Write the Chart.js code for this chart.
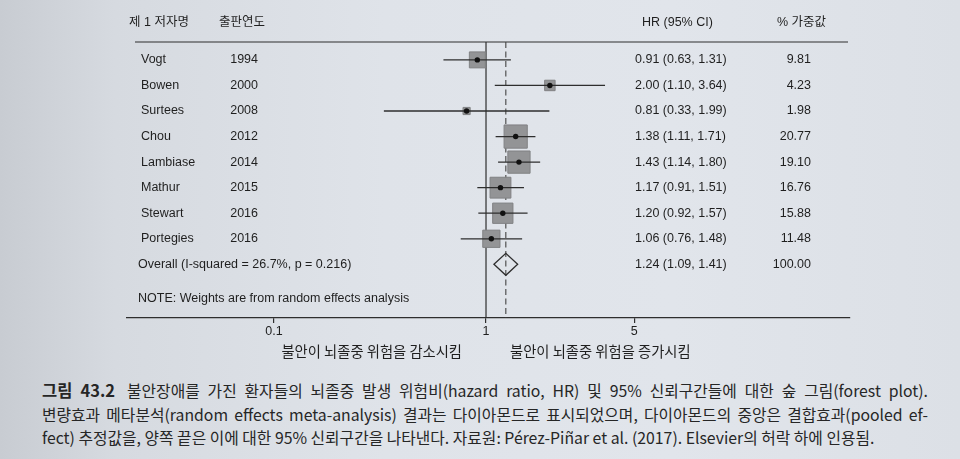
<!DOCTYPE html>
<html>
<head>
<meta charset="utf-8">
<script src="https://cdn.jsdelivr.net/npm/chart.js@4"></script>
<style>
  html, body { margin:0; padding:0; }
  body {
    width:960px; height:459px; overflow:hidden; position:relative;
    background: linear-gradient(90deg, #c8ccd2 0%, #d6dae0 12%, #dfe3e9 40%, #e1e5eb 70%, #dce0e6 100%);
  }
  #wrap { position:absolute; left:0; top:0; width:960px; height:370px; }
  #cap {
    position:absolute; left:42px; top:379px; width:886px;
    font-family:"Noto Sans CJK KR", sans-serif; font-size:15.8px; line-height:23.5px;
    color:#262626;
  }
  #cap div { white-space:normal; }
  #cap .j { text-align:justify; text-align-last:justify; }
  #cap b { font-weight:700; font-size:16.5px; margin-right:12px; }
</style>
</head>
<body>
<div id="wrap"><canvas id="c" width="960" height="370"></canvas></div>
<div id="cap">
  <div class="j"><b>그림 43.2</b>불안장애를 가진 환자들의 뇌졸중 발생 위험비(hazard ratio, HR) 및 95% 신뢰구간들에 대한 숲 그림(forest plot).</div>
  <div class="j">변량효과 메타분석(random effects meta-analysis) 결과는 다이아몬드로 표시되었으며, 다이아몬드의 중앙은 결합효과(pooled ef-</div>
  <div>fect) 추정값을, 양쪽 끝은 이에 대한 95% 신뢰구간을 나타낸다. 자료원: Pérez-Piñar et al. (2017). Elsevier의 허락 하에 인용됨.</div>
</div>
<script>
// ---- data ----
const authors = ['Vogt','Bowen','Surtees','Chou','Lambiase','Mathur','Stewart','Portegies'];
const years   = ['1994','2000','2008','2012','2014','2015','2016','2016'];
const hr      = [0.91, 2.00, 0.81, 1.38, 1.43, 1.17, 1.20, 1.06];
const ciLow   = [0.63, 1.10, 0.33, 1.11, 1.14, 0.91, 0.92, 0.76];
const ciHigh  = [1.31, 3.64, 1.99, 1.71, 1.80, 1.51, 1.57, 1.48];
const weights = [9.81, 4.23, 1.98, 20.77, 19.10, 16.76, 15.88, 11.48];
const overallLabel  = 'Overall (I-squared = 26.7%, p = 0.216)';
const overallHR     = 1.24;
const overallLow    = 1.09;
const overallHigh   = 1.41;
const overallWeight = 100.00;
const headers = ['제 1 저자명', '출판연도', 'HR (95% CI)', '% 가중값'];
const noteText = 'NOTE: Weights are from random effects analysis';
const xTicks = [0.1, 1, 5];
const xTickLabels = ['0.1', '1', '5'];
const sideLabels = ['불안이 뇌졸중 위험을 감소시킴', '불안이 뇌졸중 위험을 증가시킴'];

const FONT = '12.5px "Liberation Sans", "Noto Sans CJK KR", sans-serif';
const INK = '#1f1f1f';
const LINE = '#2e2e2e';

const forestPlugin = {
  id: 'forest',
  beforeDatasetsDraw(chart) {
    const {ctx, chartArea: a, scales: {x, y}} = chart;
    ctx.save();
    // header line
    ctx.strokeStyle = LINE; ctx.lineWidth = 1.2;
    ctx.beginPath(); ctx.moveTo(135, a.top); ctx.lineTo(848, a.top); ctx.stroke();
    // null line
    const x1 = x.getPixelForValue(1);
    ctx.beginPath(); ctx.moveTo(x1, a.top); ctx.lineTo(x1, a.bottom); ctx.stroke();
    // overall dashed line
    const xo = x.getPixelForValue(overallHR);
    ctx.setLineDash([6, 3.5]); ctx.lineWidth = 1.1; ctx.strokeStyle = '#444';
    ctx.beginPath(); ctx.moveTo(xo, a.top); ctx.lineTo(xo, a.bottom); ctx.stroke();
    ctx.setLineDash([]);
    // headers
    ctx.fillStyle = INK; ctx.font = FONT; ctx.textBaseline = 'middle';
    const hy = a.top - 19;
    ctx.textAlign = 'left';
    ctx.fillText(headers[0], 129, hy);
    ctx.fillText(headers[1], 219, hy);
    ctx.fillText(headers[2], 642, hy);
    ctx.fillText(headers[3], 777, hy);
    // rows
    authors.forEach((name, i) => {
      const py = y.getPixelForValue(i);
      ctx.textAlign = 'left';
      ctx.fillText(name, 141, py);
      ctx.textAlign = 'right';
      ctx.fillText(years[i], 258, py);
      ctx.textAlign = 'left';
      ctx.fillText(`${hr[i].toFixed(2)} (${ciLow[i].toFixed(2)}, ${ciHigh[i].toFixed(2)})`, 635, py);
      ctx.textAlign = 'right';
      ctx.fillText(weights[i].toFixed(2), 811, py);
    });
    // overall row
    const oy = y.getPixelForValue(authors.length);
    ctx.textAlign = 'left';
    ctx.fillText(overallLabel, 138, oy);
    ctx.fillText(`${overallHR.toFixed(2)} (${overallLow.toFixed(2)}, ${overallHigh.toFixed(2)})`, 635, oy);
    ctx.textAlign = 'right';
    ctx.fillText(overallWeight.toFixed(2), 811, oy);
    // diamond
    const dl = x.getPixelForValue(overallLow), dh = x.getPixelForValue(overallHigh);
    ctx.strokeStyle = LINE; ctx.lineWidth = 1.3;
    ctx.beginPath();
    ctx.moveTo(dl, oy); ctx.lineTo(xo, oy - 11); ctx.lineTo(dh, oy); ctx.lineTo(xo, oy + 11); ctx.closePath();
    ctx.stroke();
    // note
    ctx.textAlign = 'left';
    ctx.fillText(noteText, 138, y.getPixelForValue(9.35));
    // side labels under axis
    ctx.font = '14.3px "Noto Sans CJK KR", sans-serif';
    ctx.textAlign = 'right';
    ctx.fillText(sideLabels[0], x1 - 24, 352);
    ctx.textAlign = 'left';
    ctx.fillText(sideLabels[1], x1 + 24, 352);
    ctx.restore();
  },
  afterDatasetDraw(chart, args) {
    if (args.index !== 0) return;
    const {ctx, scales: {x, y}} = chart;
    ctx.save();
    ctx.strokeStyle = LINE; ctx.lineWidth = 1.3;
    authors.forEach((_, i) => {
      const py = y.getPixelForValue(i);
      ctx.beginPath();
      ctx.moveTo(x.getPixelForValue(ciLow[i]), py);
      ctx.lineTo(x.getPixelForValue(ciHigh[i]), py);
      ctx.stroke();
    });
    ctx.restore();
  }
};

new Chart(document.getElementById('c'), {
  type: 'scatter',
  data: {
    datasets: [
      {
        label: 'weight',
        data: hr.map((v, i) => ({x: v, y: i})),
        pointStyle: 'rect',
        pointRadius: ctx => 3.6 * Math.sqrt(weights[ctx.dataIndex]),
        backgroundColor: '#939496',
        borderColor: '#808183',
        borderWidth: 1,
        order: 2
      },
      {
        label: 'estimate',
        data: hr.map((v, i) => ({x: v, y: i})),
        pointStyle: 'circle',
        pointRadius: 2.7,
        backgroundColor: '#111',
        borderWidth: 0,
        order: 1
      }
    ]
  },
  options: {
    responsive: false,
    animation: false,
    layout: { padding: { left: 127, right: 110, top: 42, bottom: 30 } },
    plugins: { legend: { display: false }, tooltip: { enabled: false } },
    scales: {
      x: {
        type: 'logarithmic',
        min: 0.0203, max: 52,
        afterBuildTicks: s => { s.ticks = xTicks.map(v => ({value: v})); },
        afterFit: s => { s.height = 22; },
        grid: { drawOnChartArea: false, drawTicks: true, tickLength: 5, color: LINE, lineWidth: 1.2 },
        border: { display: true, color: LINE, width: 1.3 },
        ticks: {
          autoSkip: false, maxRotation: 0, padding: 1,
          color: INK, font: { family: '"Liberation Sans", sans-serif', size: 12.5 },
          callback: (v) => { const k = xTicks.indexOf(v); return k >= 0 ? xTickLabels[k] : ''; }
        }
      },
      y: {
        type: 'linear', min: -0.7, max: 10.1, reverse: true, display: false
      }
    }
  },
  plugins: [forestPlugin]
});
</script>
</body>
</html>
